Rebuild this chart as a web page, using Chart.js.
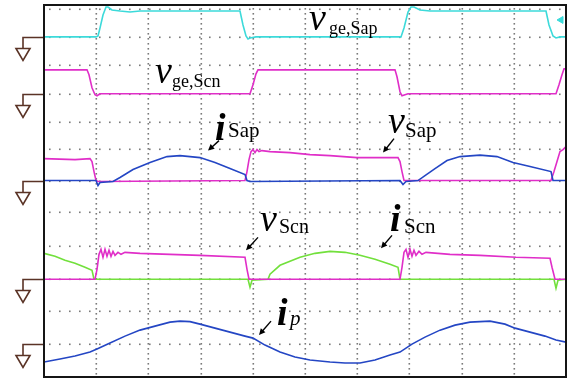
<!DOCTYPE html>
<html>
<head>
<meta charset="utf-8">
<script src="https://cdn.jsdelivr.net/npm/chart.js@4/dist/chart.umd.min.js"></script>
<style>
  html, body { margin: 0; padding: 0; background: #ffffff; }
  #scope { display: block; }
</style>
</head>
<body>
<canvas id="scope" width="573" height="382"></canvas>
<script>
// Scope capture: five channels, each drawn relative to its own ground level.

// ground level of each channel (scope units, 0 = bottom of screen)
const CH_GROUNDS = [341, 284, 197, 98, 33];

// horizontal dotted rows of the graticule
const GRID_ROWS = [369, 341, 313, 284, 256, 229, 197, 165, 131, 98, 66, 33];
const TIME_SPAN = 522;
const TIME_DIVS = 10;

// ch1: v_ge,Sap (cyan)
const T_GE_SAP = [0, 52, 54, 56, 59, 62, 64, 68, 76, 86, 96, 156, 196, 199, 202, 204, 206, 212, 357, 360, 364, 367, 370, 376, 386, 502, 505, 509, 512, 516, 522];
const V_GE_SAP = [0, 0, 1, 9, 22, 30, 30, 27, 26, 25, 26, 26, 26, 12, 1, -2, -1, 0, 0, 9, 25, 30, 30, 27, 26, 26, 12, 1, -1, 0, 0];

// ch2: v_ge,Scn (magenta)
const T_GE_SCN = [0, 43, 45, 48, 51, 53, 56, 206, 209, 212, 214, 351, 353, 356, 358, 361, 364, 512, 515, 518, 520, 522];
const V_GE_SCN = [24, 24, 19, 6, -1, -2, 0, 0, 9, 20, 24, 24, 17, 2, -2, -1, 0, 0, 9, 19, 25, 25];

// ch3: v_Sap (magenta) and i_Sap (blue)
const T_V_SAP = [0, 31, 46, 48, 50, 52, 54, 201, 203, 205, 207, 209, 211, 213, 215, 218, 226, 246, 266, 286, 313, 354, 356, 358, 360, 507, 510, 513, 516, 519, 522];
const V_V_SAP = [22, 21, 22, 19, 9, 0, -1, 0, 9, 21, 29, 31, 28, 31, 29, 30, 29, 28, 26, 25, 23, 23, 19, 9, 0, 0, 9, 19, 29, 31, 34];
const T_I_SAP = [0, 52, 54, 56, 69, 76, 89, 106, 123, 136, 156, 171, 186, 201, 203, 206, 356, 359, 362, 374, 381, 391, 403, 416, 436, 453, 469, 486, 507, 509, 522];
const V_I_SAP = [0, 0, -5, -2, -1, 3, 11, 18, 24, 25, 23, 18, 12, 6, 0, -1, 0, -4, -1, 0, 5, 12, 20, 24, 25.5, 24, 18, 14, 9, 0, 0];

// ch4: v_Scn (magenta) and i_Scn (green)
const T_V_SCN = [0, 51, 53, 55, 57, 59, 61, 63, 65, 67, 69, 71, 74, 77, 81, 96, 126, 156, 201, 203, 205, 356, 358, 360, 362, 364, 366, 368, 370, 372, 375, 378, 382, 406, 436, 472, 506, 508, 511, 522];
const V_V_SCN = [0, 0, 10, 25, 30, 22, 30, 23, 29, 23, 28, 24, 27, 25, 27, 26, 25, 24, 22, 10, 0, 0, 12, 27, 30, 22, 30, 23, 29, 24, 28, 25, 27, 25, 24, 22, 21, 12, 0, 0];
const T_I_SCN = [0, 11, 21, 31, 41, 48, 50, 204, 206, 208, 224, 226, 236, 256, 271, 286, 301, 316, 331, 346, 354, 356, 510, 512, 514, 522];
const V_I_SCN = [26, 23, 19, 16, 12, 9, 0, 0, -8, -1, 0, 5, 14, 22, 26, 28, 27, 24, 20, 15, 12, 0, 0, -9, -1, 0];

// ch5: i_p (blue)
const T_IP = [0, 16, 31, 46, 53, 66, 81, 96, 111, 126, 136, 146, 156, 171, 186, 201, 209, 221, 236, 251, 266, 286, 301, 316, 331, 346, 356, 368, 381, 396, 411, 426, 446, 461, 471, 486, 501, 512, 522];
const V_IP = [-18, -15, -12, -8, -5, 1, 8, 14, 18, 22, 23, 22.5, 20, 16, 12, 8, 6, -1, -8, -13, -16, -18, -19, -19, -16, -11, -8, 0, 7, 14, 19, 22, 23, 20, 16, 12, 8, 4, 2];

// trigger level marker on ch1
const TRIGGER = [{ x: 517, y: 358 }];

const CYAN = '#3cdada';
const MAGENTA = '#e02ec8';
const BLUE = '#2446c4';
const GREEN = '#72e03c';
const GROUND_COLOR = '#5a3326';
const GRID_COLOR = '#7a7a7a';
const SERIF = '"Liberation Serif", "Times New Roman", serif';

// annotation layout (data coords): main letter, subscript, arrow
const LABELS = [
  { main: 'v', sub: 'ge,Sap', m: [265, 348], s: [285, 344], subSize: 18 },
  { main: 'v', sub: 'ge,Scn', m: [111, 295], s: [128, 291], subSize: 18 },
  { main: 'i', sub: 'Sap', m: [171, 238], s: [184, 241], subSize: 21, bold: true, arrow: [175, 237, 164, 227] },
  { main: 'v', sub: 'Sap', m: [344, 245], s: [361, 241], subSize: 21, arrow: [350, 239, 339, 225] },
  { main: 'v', sub: 'Scn', m: [216, 146], s: [235, 144], subSize: 20, arrow: [214, 140, 202, 127] },
  { main: 'i', sub: 'Scn', m: [346, 146], s: [360, 144], subSize: 21, bold: true, arrow: [348, 142, 337, 129] },
  { main: 'i', sub: 'p', m: [233, 52], s: [246, 52], subSize: 21, bold: true, subItalic: true, arrow: [227, 56, 215, 42] },
];

function trace(t, v, ground) {
  return t.map((x, i) => ({ x, y: ground + v[i] }));
}

function line(label, data, color) {
  return {
    label,
    data,
    borderColor: color,
    borderWidth: 1.6,
    pointRadius: 0,
    tension: 0,
    fill: false,
  };
}

// dotted graticule, placed through the scales
const graticulePlugin = {
  id: 'graticule',
  beforeDatasetsDraw(chart) {
    const { ctx, chartArea: a, scales: { x, y } } = chart;
    ctx.save();
    ctx.fillStyle = GRID_COLOR;
    for (let k = 1; k < TIME_DIVS; k++) {
      const px = Math.round(x.getPixelForValue(k * TIME_SPAN / TIME_DIVS));
      for (let py = Math.ceil(a.top) + 3; py < a.bottom - 1; py += 5) ctx.fillRect(px - 0.5, py, 1.6, 1.6);
    }
    GRID_ROWS.forEach(v => {
      const py = Math.round(y.getPixelForValue(v));
      for (let px = Math.ceil(a.left) + 5; px < a.right - 1; px += 10) ctx.fillRect(px, py - 0.5, 1.6, 1.6);
    });
    ctx.restore();
  },
};

const framePlugin = {
  id: 'scopeFrame',
  afterDraw(chart) {
    const { ctx, chartArea: a, scales: { y } } = chart;
    ctx.save();
    // ground markers on the left
    ctx.strokeStyle = GROUND_COLOR;
    ctx.lineWidth = 1.6;
    CH_GROUNDS.forEach(g => {
      const py = Math.round(y.getPixelForValue(g)) + 0.5;
      const cx = a.left - 21;
      ctx.beginPath();
      ctx.moveTo(a.left, py);
      ctx.lineTo(cx, py);
      ctx.lineTo(cx, py + 11);
      ctx.stroke();
      ctx.beginPath();
      ctx.moveTo(cx - 7, py + 11);
      ctx.lineTo(cx + 7, py + 11);
      ctx.lineTo(cx, py + 23);
      ctx.closePath();
      ctx.stroke();
    });
    // screen border
    ctx.strokeStyle = '#151515';
    ctx.lineWidth = 2;
    ctx.strokeRect(a.left, a.top, a.right - a.left, a.bottom - a.top);
    ctx.restore();
  },
};

function arrow(ctx, x1, y1, x2, y2) {
  const ang = Math.atan2(y2 - y1, x2 - x1);
  ctx.beginPath();
  ctx.moveTo(x1, y1);
  ctx.lineTo(x2 - 4 * Math.cos(ang), y2 - 4 * Math.sin(ang));
  ctx.stroke();
  ctx.beginPath();
  ctx.moveTo(x2, y2);
  ctx.lineTo(x2 - 7 * Math.cos(ang - 0.45), y2 - 7 * Math.sin(ang - 0.45));
  ctx.lineTo(x2 - 7 * Math.cos(ang + 0.45), y2 - 7 * Math.sin(ang + 0.45));
  ctx.closePath();
  ctx.fill();
}

const labelPlugin = {
  id: 'traceLabels',
  afterDraw(chart) {
    const { ctx, scales: { x, y } } = chart;
    ctx.save();
    ctx.fillStyle = '#000';
    ctx.strokeStyle = '#000';
    ctx.lineWidth = 1.4;
    ctx.textBaseline = 'alphabetic';
    ctx.textAlign = 'left';
    LABELS.forEach(l => {
      ctx.font = `italic ${l.bold ? 'bold ' : ''}38px ${SERIF}`;
      ctx.fillText(l.main, x.getPixelForValue(l.m[0]), y.getPixelForValue(l.m[1]));
      ctx.font = `${l.subItalic ? 'italic ' : ''}${l.subSize}px ${SERIF}`;
      ctx.fillText(l.sub, x.getPixelForValue(l.s[0]), y.getPixelForValue(l.s[1]));
      if (l.arrow) {
        const [t1, v1, t2, v2] = l.arrow;
        arrow(ctx, x.getPixelForValue(t1), y.getPixelForValue(v1),
                   x.getPixelForValue(t2), y.getPixelForValue(v2));
      }
    });
    ctx.restore();
  },
};

new Chart(document.getElementById('scope'), {
  type: 'line',
  data: {
    datasets: [
      line('v ge,Sap', trace(T_GE_SAP, V_GE_SAP, CH_GROUNDS[0]), CYAN),
      line('v ge,Scn', trace(T_GE_SCN, V_GE_SCN, CH_GROUNDS[1]), MAGENTA),
      line('i Sap', trace(T_I_SAP, V_I_SAP, CH_GROUNDS[2]), BLUE),
      line('v Sap', trace(T_V_SAP, V_V_SAP, CH_GROUNDS[2]), MAGENTA),
      line('v Scn', trace(T_V_SCN, V_V_SCN, CH_GROUNDS[3]), MAGENTA),
      line('i Scn', trace(T_I_SCN, V_I_SCN, CH_GROUNDS[3]), GREEN),
      line('i p', trace(T_IP, V_IP, CH_GROUNDS[4]), BLUE),
      {
        label: 'trigger',
        data: TRIGGER,
        showLine: false,
        pointStyle: 'triangle',
        rotation: -90,
        pointRadius: 4,
        backgroundColor: CYAN,
        borderColor: CYAN,
      },
    ],
  },
  options: {
    responsive: false,
    animation: false,
    events: [],
    layout: { padding: { left: 44, right: 7, top: 5, bottom: 4 } },
    plugins: {
      legend: { display: false },
      tooltip: { enabled: false },
    },
    scales: {
      x: {
        type: 'linear',
        min: 0,
        max: TIME_SPAN,
        ticks: { display: false },
        grid: { display: false, drawTicks: false },
        border: { display: false },
      },
      y: {
        type: 'linear',
        min: 0,
        max: 373,
        ticks: { display: false },
        grid: { display: false, drawTicks: false },
        border: { display: false },
      },
    },
  },
  plugins: [graticulePlugin, framePlugin, labelPlugin],
});
</script>
</body>
</html>
